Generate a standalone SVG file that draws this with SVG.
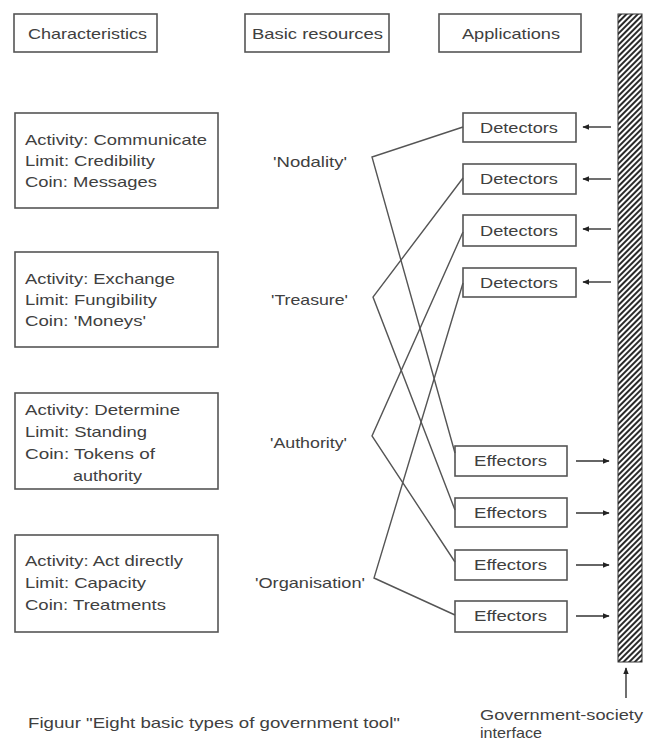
<svg xmlns="http://www.w3.org/2000/svg" width="646" height="743" viewBox="0 0 646 743">
<style>
  .box { fill: #ffffff; stroke: #555555; stroke-width: 1.6; }
  .t { font-family: "Liberation Sans", Arial, sans-serif; font-size: 14.5px; fill: #404040; }
  .ln { stroke: #555555; stroke-width: 1.4; fill: none; }
  .arr { stroke: #333333; stroke-width: 1.4; fill: none; }
</style>
<defs>
  <pattern id="hatch" patternUnits="userSpaceOnUse" width="4" height="4" patternTransform="rotate(45)">
    <rect width="4" height="4" fill="#ffffff"/>
    <line x1="1" y1="0" x2="1" y2="4" stroke="#2a2a2a" stroke-width="2"/>
  </pattern>
  <marker id="ah" viewBox="0 0 10 10" refX="9" refY="5" markerWidth="7" markerHeight="7" markerUnits="userSpaceOnUse" orient="auto">
    <path d="M0,1 L10,5 L0,9 Z" fill="#222222"/>
  </marker>
</defs>
<rect width="646" height="743" fill="#ffffff"/>

<g id="hdr-characteristics">
  <rect class="box" x="14" y="14" width="143" height="38"/>
  <text class="t" x="28" y="39" textLength="119" lengthAdjust="spacingAndGlyphs">Characteristics</text>
</g>
<g id="hdr-resources">
  <rect class="box" x="245" y="14" width="144" height="38"/>
  <text class="t" x="252" y="39" textLength="131" lengthAdjust="spacingAndGlyphs">Basic resources</text>
</g>
<g id="hdr-applications">
  <rect class="box" x="439" y="14" width="142" height="38"/>
  <text class="t" x="462" y="39" textLength="98" lengthAdjust="spacingAndGlyphs">Applications</text>
</g>

<g id="interface">
  <rect x="618" y="14" width="24" height="648" fill="url(#hatch)" stroke="#333333" stroke-width="1"/>
</g>

<g id="char-1">
  <rect class="box" x="15" y="113" width="203" height="95"/>
  <text class="t" x="25" y="145" textLength="182" lengthAdjust="spacingAndGlyphs">Activity: Communicate</text>
  <text class="t" x="25" y="166" textLength="130" lengthAdjust="spacingAndGlyphs">Limit: Credibility</text>
  <text class="t" x="25" y="187" textLength="132" lengthAdjust="spacingAndGlyphs">Coin: Messages</text>
</g>
<g id="char-2">
  <rect class="box" x="15" y="252" width="203" height="95"/>
  <text class="t" x="25" y="284" textLength="150" lengthAdjust="spacingAndGlyphs">Activity: Exchange</text>
  <text class="t" x="25" y="305" textLength="132" lengthAdjust="spacingAndGlyphs">Limit: Fungibility</text>
  <text class="t" x="25" y="326" textLength="121" lengthAdjust="spacingAndGlyphs">Coin: 'Moneys'</text>
</g>
<g id="char-3">
  <rect class="box" x="15" y="393" width="203" height="96"/>
  <text class="t" x="25" y="415" textLength="155" lengthAdjust="spacingAndGlyphs">Activity: Determine</text>
  <text class="t" x="25" y="437" textLength="122" lengthAdjust="spacingAndGlyphs">Limit: Standing</text>
  <text class="t" x="25" y="459" textLength="130" lengthAdjust="spacingAndGlyphs">Coin: Tokens of</text>
  <text class="t" x="73" y="481" textLength="69" lengthAdjust="spacingAndGlyphs">authority</text>
</g>
<g id="char-4">
  <rect class="box" x="15" y="535" width="203" height="97"/>
  <text class="t" x="25" y="566" textLength="158" lengthAdjust="spacingAndGlyphs">Activity: Act directly</text>
  <text class="t" x="25" y="588" textLength="121" lengthAdjust="spacingAndGlyphs">Limit: Capacity</text>
  <text class="t" x="25" y="610" textLength="141" lengthAdjust="spacingAndGlyphs">Coin: Treatments</text>
</g>

<g id="res-nodality"><text class="t" x="273" y="167" textLength="74" lengthAdjust="spacingAndGlyphs">'Nodality'</text></g>
<g id="res-treasure"><text class="t" x="271" y="305" textLength="77" lengthAdjust="spacingAndGlyphs">'Treasure'</text></g>
<g id="res-authority"><text class="t" x="270" y="448" textLength="77" lengthAdjust="spacingAndGlyphs">'Authority'</text></g>
<g id="res-organisation"><text class="t" x="255" y="588" textLength="110" lengthAdjust="spacingAndGlyphs">'Organisation'</text></g>

<g id="det-1">
  <rect class="box" x="463" y="113" width="113" height="29"/>
  <text class="t" x="480" y="133" textLength="78" lengthAdjust="spacingAndGlyphs">Detectors</text>
</g>
<g id="det-2">
  <rect class="box" x="463" y="164" width="113" height="30"/>
  <text class="t" x="480" y="184" textLength="78" lengthAdjust="spacingAndGlyphs">Detectors</text>
</g>
<g id="det-3">
  <rect class="box" x="463" y="215" width="113" height="31"/>
  <text class="t" x="480" y="236" textLength="78" lengthAdjust="spacingAndGlyphs">Detectors</text>
</g>
<g id="det-4">
  <rect class="box" x="463" y="268" width="113" height="29"/>
  <text class="t" x="480" y="288" textLength="78" lengthAdjust="spacingAndGlyphs">Detectors</text>
</g>

<g id="eff-1">
  <rect class="box" x="455" y="446" width="112" height="30"/>
  <text class="t" x="474" y="466" textLength="73" lengthAdjust="spacingAndGlyphs">Effectors</text>
</g>
<g id="eff-2">
  <rect class="box" x="455" y="498" width="112" height="29"/>
  <text class="t" x="474" y="518" textLength="73" lengthAdjust="spacingAndGlyphs">Effectors</text>
</g>
<g id="eff-3">
  <rect class="box" x="455" y="550" width="112" height="30"/>
  <text class="t" x="474" y="570" textLength="73" lengthAdjust="spacingAndGlyphs">Effectors</text>
</g>
<g id="eff-4">
  <rect class="box" x="455" y="601" width="112" height="31"/>
  <text class="t" x="474" y="621" textLength="73" lengthAdjust="spacingAndGlyphs">Effectors</text>
</g>

<g id="connectors">
  <polyline class="ln" points="463,127 372,157 455,453"/>
  <polyline class="ln" points="463,178 373,297 455,510"/>
  <polyline class="ln" points="463,232 372,436 455,562"/>
  <polyline class="ln" points="463,283 374,578 455,615"/>
  <line class="arr" x1="611" y1="127" x2="583" y2="127" marker-end="url(#ah)"/>
  <line class="arr" x1="611" y1="179" x2="583" y2="179" marker-end="url(#ah)"/>
  <line class="arr" x1="611" y1="229" x2="583" y2="229" marker-end="url(#ah)"/>
  <line class="arr" x1="611" y1="282" x2="583" y2="282" marker-end="url(#ah)"/>
  <line class="arr" x1="576" y1="461" x2="609" y2="461" marker-end="url(#ah)"/>
  <line class="arr" x1="576" y1="513" x2="609" y2="513" marker-end="url(#ah)"/>
  <line class="arr" x1="576" y1="565" x2="609" y2="565" marker-end="url(#ah)"/>
  <line class="arr" x1="576" y1="616" x2="609" y2="616" marker-end="url(#ah)"/>
  <line class="arr" x1="626" y1="698" x2="626" y2="668" marker-end="url(#ah)"/>
</g>

<g id="label-interface">
  <text class="t" x="480" y="720" textLength="163" lengthAdjust="spacingAndGlyphs">Government-society</text>
  <text class="t" x="480" y="738" textLength="62" lengthAdjust="spacingAndGlyphs">interface</text>
</g>
<g id="caption">
  <text class="t" x="28" y="728" textLength="372" lengthAdjust="spacingAndGlyphs">Figuur "Eight basic types of government tool"</text>
</g>
</svg>
